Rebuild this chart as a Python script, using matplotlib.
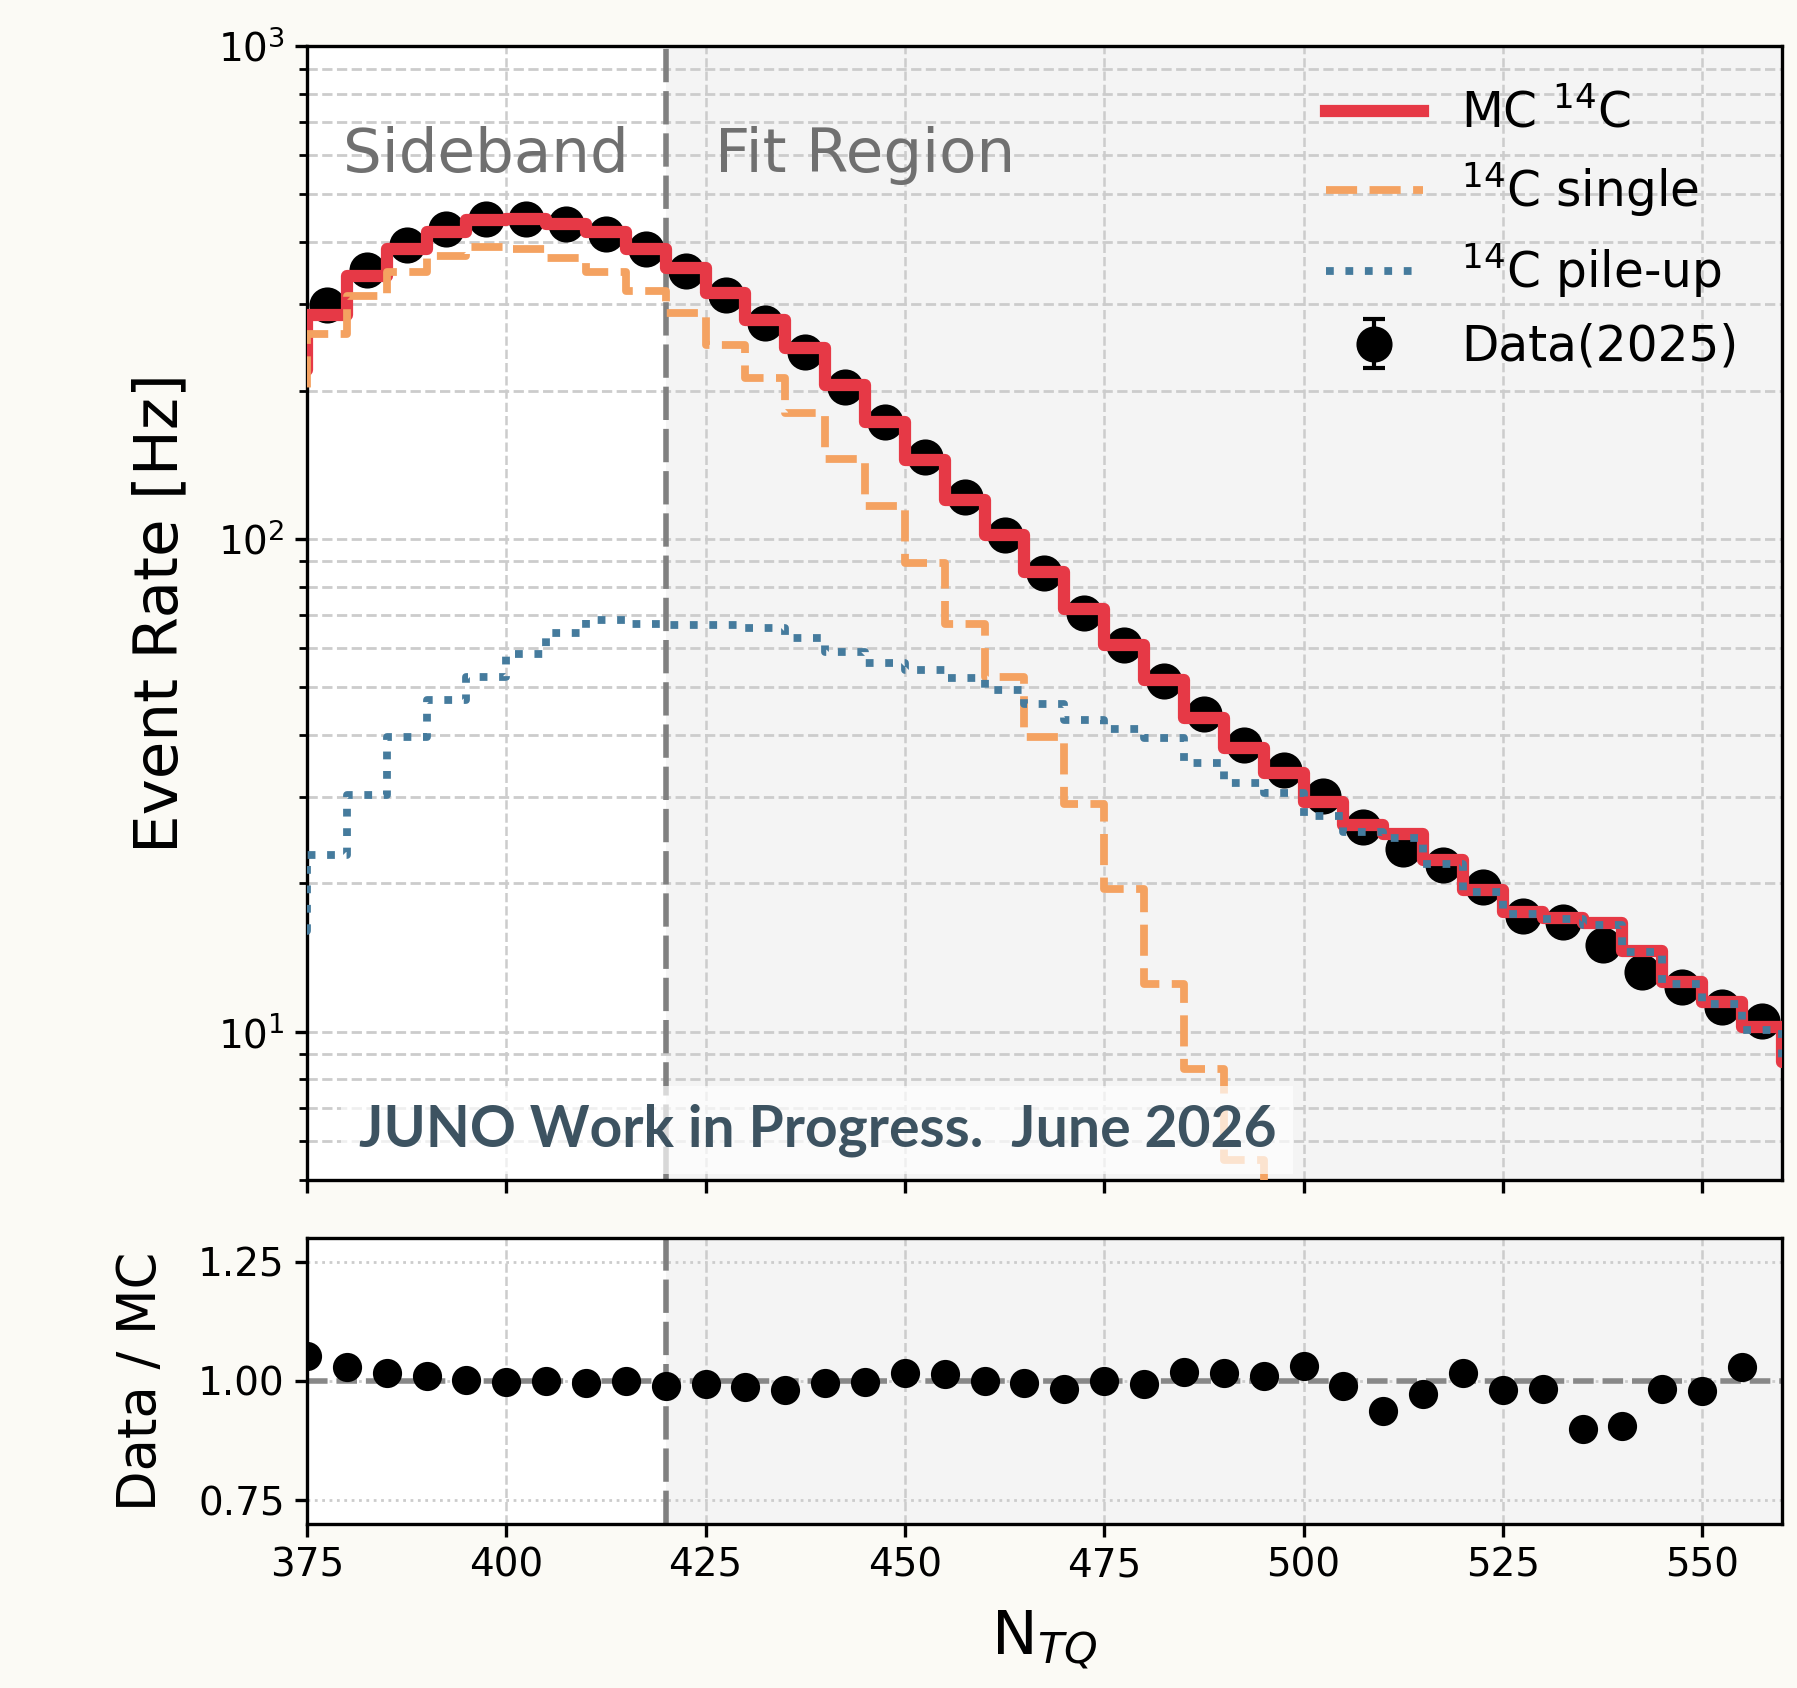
import numpy as np
import matplotlib.pyplot as plt
from matplotlib.ticker import LogLocator, NullFormatter, FormatStrFormatter

# Границы бинов N_TQ (шаг 5), гистограммы MC заданы по бинам
bin_edges = np.arange(370, 570, 5)

# MC 14C (сумма), Гц
mc_rate = [220, 284, 341, 387, 420, 443, 445, 436, 420, 388,
           354, 315, 278, 244, 205, 173, 144.5, 120.2, 101.7, 85.7,
           72.1, 60.8, 51.7, 43.3, 37.6, 33.5, 29.3, 26.3, 25.2, 22.3,
           19.4, 17.5, 17.0, 16.6, 14.6, 12.6, 11.5, 10.2, 8.7]

# 14C single
single_rate = [200, 260, 311, 348, 375, 391, 387, 372, 348, 319,
               287, 247, 212, 180, 145, 116.5, 89.4, 67.3, 52.5, 39.7,
               29.0, 19.5, 12.5, 8.4, 5.5, 2.9, 1.9, 0.9, 0.6, 0.4,
               0.3, 0.2, 0.15, 0.1, 0.08, 0.06, 0.05, 0.04, 0.03]

# 14C pile-up
pileup_rate = [16, 22.8, 30.2, 39.6, 47.1, 52.5, 58.5, 64.4, 68.4, 67.2,
               66.9, 67.0, 65.9, 62.9, 59.0, 55.9, 54.3, 52.3, 49.3, 46.2,
               43.0, 41.2, 39.5, 35.1, 32.0, 30.5, 27.4, 25.4, 24.7, 21.9,
               19.2, 17.3, 16.9, 16.5, 14.5, 12.5, 11.4, 10.1, 8.6]

# Данные 2025 (центры бинов)
data_x = np.arange(377.5, 560, 5)
data_rate = [298, 352, 394, 425, 445, 445, 436, 416, 387, 350,
             313, 274, 240, 203, 173, 146.5, 121.7, 102, 85.4, 70.8,
             60.8, 51.4, 44.2, 38.2, 34.0, 30.1, 26.0, 23.5, 21.8, 19.7,
             17.2, 16.7, 15.0, 13.2, 12.3, 11.2, 10.5]
data_err = [0.6, 0.7, 0.7, 0.7, 0.7, 0.7, 0.7, 0.7, 0.7, 0.6,
            0.6, 0.6, 0.5, 0.5, 0.5, 0.4, 0.4, 0.4, 0.3, 0.3,
            0.3, 0.3, 0.3, 0.2, 0.2, 0.2, 0.2, 0.2, 0.2, 0.2,
            0.2, 0.2, 0.2, 0.2, 0.2, 0.2, 0.1]

# Отношение Data / MC (нижняя панель)
ratio_x = np.arange(375, 560, 5)
ratio = [1.053, 1.029, 1.017, 1.010, 1.002, 0.998, 1.000, 0.995, 1.000, 0.990,
         0.993, 0.988, 0.981, 0.995, 0.998, 1.017, 1.015, 1.000, 0.995, 0.983,
         1.000, 0.993, 1.019, 1.017, 1.010, 1.032, 0.990, 0.937, 0.973, 1.017,
         0.981, 0.983, 0.900, 0.905, 0.983, 0.978, 1.029]

fit_start = 420
x_ticks = [375, 400, 425, 450, 475, 500, 525, 550]

fig = plt.figure(figsize=(8.985, 8.44), dpi=200, facecolor='#fbfaf5')
ax1 = fig.add_axes([0.1708, 0.3009, 0.8208, 0.6718])
ax2 = fig.add_axes([0.1708, 0.0972, 0.8208, 0.1694])

# Верхняя панель
ax1.axvspan(fit_start, 570, color='#f4f4f4', zorder=0, lw=0)
h_data = ax1.errorbar(data_x, data_rate, yerr=data_err, fmt='o', color='black', ms=12,
                      capsize=4, elinewidth=1.5, capthick=1.5, zorder=2)
h_mc, = ax1.step(bin_edges, np.append(mc_rate, mc_rate[-1]), where='post',
                 color='#e63946', lw=4.4, zorder=3)
h_single, = ax1.step(bin_edges, np.append(single_rate, single_rate[-1]), where='post',
                     color='#f4a261', lw=2.8, dashes=(4, 1.6), zorder=4)
h_pile, = ax1.step(bin_edges, np.append(pileup_rate, pileup_rate[-1]), where='post',
                   color='#457b9d', lw=2.8, dashes=(1, 1.5), zorder=5)
ax1.axvline(fit_start, color='#808080', lw=2, dashes=(6, 1.6), zorder=2.5)

ax1.set_yscale('log')
ax1.set_xlim(375, 560)
ax1.set_ylim(5, 1000)
ax1.set_xticks(x_ticks)
ax1.tick_params(axis='x', labelbottom=False)
ax1.yaxis.set_minor_locator(LogLocator(base=10, subs=np.arange(2, 10)))
ax1.yaxis.set_minor_formatter(NullFormatter())
ax1.grid(True, which='major', axis='y', ls='--', color='#cccccc', lw=1)
ax1.grid(True, which='minor', axis='y', ls='--', color='#cccccc', lw=1)
ax1.grid(True, which='major', axis='x', ls='--', color='#cccccc', lw=0.9)
ax1.set_ylabel('Event Rate [Hz]', fontsize=22, labelpad=10)

ax1.text(397.5, 600, 'Sideband', fontsize=22, color='#707070', ha='center', va='center')
ax1.text(445, 600, 'Fit Region', fontsize=22, color='#707070', ha='center', va='center')
ax1.text(0.035, 0.044, 'JUNO Work in Progress.  June 2026', transform=ax1.transAxes,
         fontsize=20.5, fontweight='bold', family='Lato', color='#3d5361',
         ha='left', va='center', zorder=6,
         bbox=dict(boxstyle='square,pad=0.3', facecolor='white', alpha=0.7, edgecolor='none'))

ax1.legend([h_mc, h_single, h_pile, h_data],
           ['MC $^{14}$C', '$^{14}$C single', '$^{14}$C pile-up', 'Data(2025)'],
           loc='upper right', fontsize=17.5, frameon=False, handlelength=2.0,
           handletextpad=0.78, labelspacing=0.47)

# Нижняя панель: отношение
ax2.axvspan(fit_start, 570, color='#f4f4f4', zorder=0, lw=0)
ax2.axhline(1.0, color='#888888', lw=2, ls='--', zorder=1.6)
ax2.axvline(fit_start, color='#808080', lw=2, dashes=(6, 1.6), zorder=2.5)
ax2.plot(ratio_x, ratio, 'o', color='black', ms=9.5, zorder=3)
ax2.set_xlim(375, 560)
ax2.set_ylim(0.7, 1.3)
ax2.set_xticks(x_ticks)
ax2.set_yticks([0.75, 1.0, 1.25])
ax2.yaxis.set_major_formatter(FormatStrFormatter('%.2f'))
ax2.grid(True, axis='y', ls=':', color='#cccccc', lw=1)
ax2.grid(True, axis='x', ls='--', color='#cccccc', lw=0.9)
ax2.set_ylabel('Data / MC', fontsize=19, labelpad=11)
ax2.set_xlabel('N$_{TQ}$', fontsize=22, labelpad=9)

for ax in (ax1, ax2):
    ax.set_facecolor('white')
    ax.tick_params(which='major', direction='out', length=4.5, width=1.2, labelsize=14)
    ax.tick_params(which='minor', direction='out', length=2.9, width=1.0)
    for sp in ax.spines.values():
        sp.set_linewidth(1.2)

fig.savefig('out.png', dpi=200, facecolor=fig.get_facecolor())
